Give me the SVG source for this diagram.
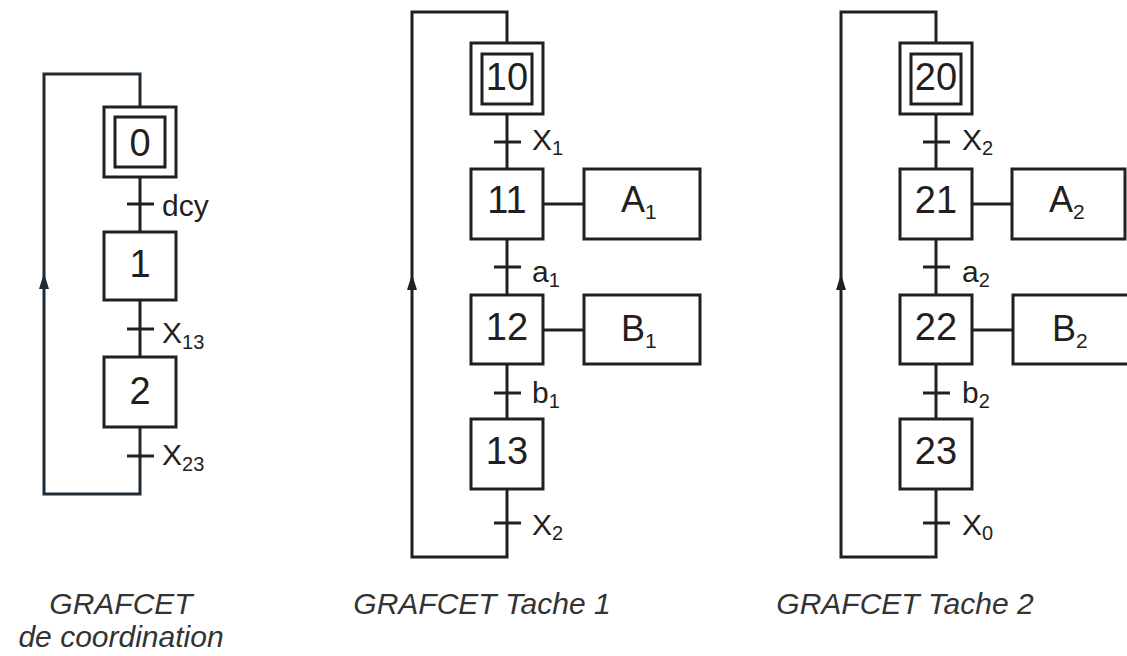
<svg xmlns="http://www.w3.org/2000/svg" width="1127" height="656" viewBox="0 0 1127 656">
<defs>
<style>
.box{fill:#fff;stroke:#231f20;stroke-width:3}
.ln{fill:none;stroke:#231f20;stroke-width:3}
.loop{fill:none;stroke:#1f2a33;stroke-width:3}
.num{font-family:"Liberation Sans",Arial,sans-serif;font-size:38px;fill:#231f20;text-anchor:middle}
.lbl{font-family:"Liberation Sans",Arial,sans-serif;font-size:30px;fill:#231f20}
.act{font-family:"Liberation Sans",Arial,sans-serif;font-size:36px;fill:#231f20}
.cap{font-family:"Liberation Sans",Arial,sans-serif;font-size:30px;font-style:italic;fill:#333;text-anchor:middle}
</style>
</defs>
<rect width="1127" height="656" fill="#fff"/>

<g id="connectors">
<!-- left grafcet -->
<path class="loop" d="M140,107 V74 H44 V494 H140 V427"/>
<line class="ln" x1="140" y1="177" x2="140" y2="232"/>
<line class="ln" x1="140" y1="300" x2="140" y2="357"/>
<line class="ln" x1="127" y1="204" x2="154" y2="204"/>
<line class="ln" x1="127" y1="329" x2="154" y2="329"/>
<line class="ln" x1="127" y1="456" x2="154" y2="456"/>
<path d="M39,289 L44,273 L49,289 Z" fill="#1f2a33"/>
<!-- middle grafcet -->
<path class="ln" d="M507,43 V12 H412 V557 H507 V489"/>
<line class="ln" x1="507" y1="114" x2="507" y2="169"/>
<line class="ln" x1="507" y1="239" x2="507" y2="295"/>
<line class="ln" x1="507" y1="364" x2="507" y2="419"/>
<line class="ln" x1="494" y1="142" x2="521" y2="142"/>
<line class="ln" x1="494" y1="267" x2="521" y2="267"/>
<line class="ln" x1="494" y1="393" x2="521" y2="393"/>
<line class="ln" x1="494" y1="523" x2="521" y2="523"/>
<line class="ln" x1="543" y1="204" x2="584" y2="204"/>
<line class="ln" x1="543" y1="330" x2="584" y2="330"/>
<path d="M407,290 L412,274 L417,290 Z" fill="#231f20"/>
<!-- right grafcet -->
<path class="ln" d="M936,43 V12 H841 V557 H936 V489"/>
<line class="ln" x1="936" y1="114" x2="936" y2="169"/>
<line class="ln" x1="936" y1="239" x2="936" y2="295"/>
<line class="ln" x1="936" y1="364" x2="936" y2="419"/>
<line class="ln" x1="923" y1="142" x2="950" y2="142"/>
<line class="ln" x1="923" y1="267" x2="950" y2="267"/>
<line class="ln" x1="923" y1="393" x2="950" y2="393"/>
<line class="ln" x1="923" y1="523" x2="950" y2="523"/>
<line class="ln" x1="972" y1="204" x2="1012" y2="204"/>
<line class="ln" x1="972" y1="330" x2="1013" y2="330"/>
<path d="M836,290 L841,274 L846,290 Z" fill="#231f20"/>
</g>

<g id="transition-labels">
<text class="lbl" x="162" y="216">dcy</text>
<text class="lbl" x="162" y="343">X<tspan font-size="20" dy="6">13</tspan></text>
<text class="lbl" x="162" y="465">X<tspan font-size="20" dy="6">23</tspan></text>
<text class="lbl" x="532" y="150">X<tspan font-size="20" dy="5">1</tspan></text>
<text class="lbl" x="532" y="282">a<tspan font-size="20" dy="5">1</tspan></text>
<text class="lbl" x="532" y="403">b<tspan font-size="20" dy="5">1</tspan></text>
<text class="lbl" x="532" y="535">X<tspan font-size="20" dy="5">2</tspan></text>
<text class="lbl" x="962" y="150">X<tspan font-size="20" dy="5">2</tspan></text>
<text class="lbl" x="962" y="282">a<tspan font-size="20" dy="5">2</tspan></text>
<text class="lbl" x="962" y="403">b<tspan font-size="20" dy="5">2</tspan></text>
<text class="lbl" x="962" y="535">X<tspan font-size="20" dy="5">0</tspan></text>
</g>

<g id="step0"><rect class="box" x="104" y="107" width="72" height="70"/><rect class="box" x="115" y="117" width="50" height="50"/><text class="num" x="140" y="156">0</text></g>
<g id="step1"><rect class="box" x="104" y="232" width="72" height="68"/><text class="num" x="140" y="277">1</text></g>
<g id="step2"><rect class="box" x="104" y="357" width="72" height="70"/><text class="num" x="140" y="404">2</text></g>

<g id="step10"><rect class="box" x="471" y="43" width="72" height="71"/><rect class="box" x="482" y="54" width="50" height="50"/><text class="num" x="507" y="90">10</text></g>
<g id="step11"><rect class="box" x="471" y="169" width="72" height="70"/><text class="num" x="507" y="213">11</text></g>
<g id="step12"><rect class="box" x="471" y="295" width="72" height="69"/><text class="num" x="507" y="340">12</text></g>
<g id="step13"><rect class="box" x="471" y="419" width="72" height="70"/><text class="num" x="507" y="464">13</text></g>
<g id="actionA1"><rect class="box" x="584" y="169" width="116" height="70"/><text class="act" x="621" y="212">A<tspan font-size="21" dy="7">1</tspan></text></g>
<g id="actionB1"><rect class="box" x="584" y="295" width="116" height="69"/><text class="act" x="621" y="341">B<tspan font-size="21" dy="7">1</tspan></text></g>

<g id="step20"><rect class="box" x="900" y="43" width="72" height="71"/><rect class="box" x="911" y="54" width="50" height="50"/><text class="num" x="936" y="90">20</text></g>
<g id="step21"><rect class="box" x="900" y="169" width="72" height="70"/><text class="num" x="936" y="213">21</text></g>
<g id="step22"><rect class="box" x="900" y="295" width="72" height="69"/><text class="num" x="936" y="340">22</text></g>
<g id="step23"><rect class="box" x="900" y="419" width="72" height="70"/><text class="num" x="936" y="464">23</text></g>
<g id="actionA2"><rect class="box" x="1012" y="169" width="113" height="70"/><text class="act" x="1049" y="212">A<tspan font-size="21" dy="7">2</tspan></text></g>
<g id="actionB2"><rect class="box" x="1013" y="295" width="120" height="69"/><text class="act" x="1052" y="341">B<tspan font-size="21" dy="7">2</tspan></text></g>

<g id="captions">
<text class="cap" x="121" y="614">GRAFCET</text>
<text class="cap" x="121" y="647">de coordination</text>
<text class="cap" x="482" y="614">GRAFCET Tache 1</text>
<text class="cap" x="905" y="614">GRAFCET Tache 2</text>
</g>
</svg>
